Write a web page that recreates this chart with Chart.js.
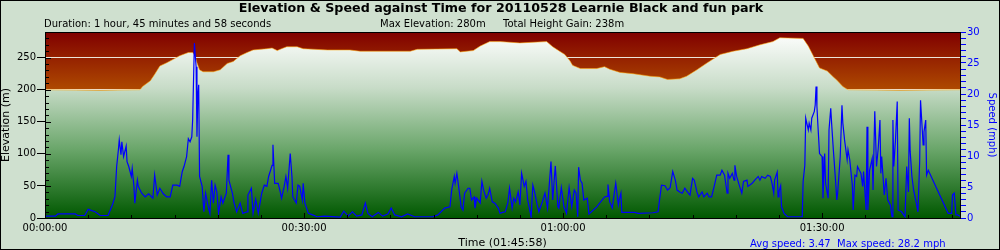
<!DOCTYPE html>
<html>
<head>
<meta charset="utf-8">
<title>Elevation & Speed against Time</title>
<script src="https://cdn.jsdelivr.net/npm/chart.js@4.4.0/dist/chart.umd.min.js"></script>
<style>
  body { margin: 0; background: #cfe0cf; }
  canvas { display: block; }
</style>
</head>
<body>
<canvas id="myChart" width="1000" height="250"></canvas>
<script>
// elevation profile: minutes from start -> metres
const elevTime = [0, 6.4, 11.0, 11.3, 12.2, 12.7, 13.3, 14.1, 14.8, 15.6,
  16.6, 17.1, 17.4, 17.6, 17.9, 18.3, 19.5, 20.3, 21.1, 21.8,
  22.6, 23.4, 24.1, 25.7, 26.3, 26.9, 27.4, 28.0, 29.2, 29.9,
  32.7, 35.3, 36.5, 42.3, 43.1, 47.7, 48.1, 49.6, 50.4, 51.5,
  52.7, 55.0, 58.1, 58.8, 59.6, 60.2, 60.8, 61.1, 62.0, 63.9,
  64.8, 65.4, 66.6, 68.1, 70.1, 71.2, 72.1, 73.5, 74.3, 75.5,
  76.7, 78.2, 79.7, 81.3, 82.8, 84.3, 85.1, 87.8, 88.4, 88.9,
  89.7, 90.6, 91.3, 91.7, 92.4, 93.0, 99.0, 105.97];
const elevation = [200, 199, 200, 205, 214, 224, 237, 242, 247, 253,
  258, 258, 252, 242, 231, 228, 228, 231, 241, 244,
  253, 258, 262, 264, 265, 261, 264, 267, 267, 264,
  262, 262, 260, 260, 263, 264, 259, 261, 268, 275,
  275, 273, 275, 267, 260, 255, 245, 238, 233, 233,
  236, 232, 227, 225, 221, 220, 216, 217, 221, 231,
  242, 255, 260, 264, 270, 275, 281, 280, 268, 255,
  234, 229, 220, 215, 205, 200, 199, 200];

// speed trace: minutes from start -> mph
const speedTime = [0, 1.2, 1.5, 3.5, 3.8, 4.6, 5.0, 5.8, 6.4, 7.3,
  7.8, 8.1, 8.3, 8.5, 8.6, 8.8, 8.9, 9.1, 9.4, 9.5,
  9.7, 10.0, 10.1, 10.3, 10.4, 10.7, 10.8, 11.2, 11.6, 12.0,
  12.5, 12.7, 13.0, 13.3, 13.7, 14.1, 14.5, 14.8, 15.3, 15.6,
  15.9, 16.1, 16.4, 16.6, 16.8, 17.0, 17.1, 17.3, 17.5, 17.6,
  17.7, 17.8, 17.9, 18.2, 18.4, 18.6, 18.9, 19.1, 19.3, 19.5,
  19.7, 19.9, 20.1, 20.4, 20.6, 21.0, 21.2, 21.3, 21.7, 21.9,
  22.2, 22.6, 22.9, 23.4, 23.5, 23.9, 24.1, 24.4, 24.7, 25.1,
  25.4, 25.7, 25.9, 26.3, 26.4, 26.6, 27.0, 27.2, 27.4, 27.7,
  27.9, 28.1, 28.4, 28.6, 28.7, 29.1, 29.3, 29.5, 29.8, 29.9,
  30.1, 30.5, 31.0, 31.5, 32.4, 34.2, 34.6, 35.1, 35.6, 36.1,
  36.7, 37.1, 37.4, 37.9, 38.6, 39.1, 39.7, 40.1, 40.5, 41.3,
  42.0, 42.8, 44.9, 45.5, 46.3, 46.9, 47.1, 47.4, 47.5, 47.7,
  47.9, 48.2, 48.4, 48.6, 49.0, 49.2, 49.4, 49.7, 49.8, 50.0,
  50.4, 50.6, 50.8, 51.1, 51.3, 51.5, 51.8, 52.1, 52.5, 52.7,
  53.0, 53.3, 53.6, 53.8, 54.1, 54.3, 54.5, 54.8, 55.0, 55.2,
  55.5, 55.7, 55.9, 56.3, 56.5, 56.7, 57.0, 57.2, 57.6, 57.9,
  58.2, 58.4, 58.6, 58.8, 59.1, 59.4, 59.5, 59.8, 60.1, 60.4,
  60.7, 61.0, 61.3, 61.5, 61.7, 61.8, 62.0, 62.2, 62.4, 62.8,
  63.0, 63.9, 64.8, 65.1, 65.2, 65.4, 65.7, 65.9, 66.1, 66.4,
  66.5, 66.7, 66.8, 68.3, 68.7, 70.4, 71.0, 71.2, 71.4, 71.8,
  72.1, 72.4, 72.7, 73.0, 73.2, 73.5, 73.8, 74.1, 74.5, 74.7,
  75.0, 75.2, 75.5, 75.7, 76.1, 76.3, 76.7, 76.9, 77.2, 77.5,
  77.8, 78.2, 78.4, 78.7, 79.0, 79.1, 79.3, 79.6, 79.8, 79.9,
  80.1, 80.4, 80.7, 80.9, 81.3, 81.4, 81.9, 82.2, 82.6, 82.8,
  83.0, 83.4, 83.7, 84.0, 84.2, 84.4, 84.5, 84.8, 84.9, 85.0,
  85.2, 85.3, 85.6, 86.0, 87.7, 87.8, 88.0, 88.1, 88.4, 88.5,
  88.7, 88.8, 89.1, 89.2, 89.3, 89.4, 89.5, 89.7, 90.0, 90.1,
  90.3, 90.4, 90.7, 90.8, 91.0, 91.1, 91.3, 91.4, 91.6, 91.7,
  91.8, 92.1, 92.3, 92.4, 92.6, 92.9, 93.0, 93.2, 93.5, 93.6,
  93.8, 94.0, 94.1, 94.5, 94.7, 94.8, 95.1, 95.2, 95.3, 95.5,
  95.8, 95.9, 96.1, 96.3, 96.5, 96.7, 96.8, 96.9, 97.2, 97.4,
  97.6, 97.9, 98.1, 98.2, 98.3, 98.5, 98.7, 98.8, 99.2, 99.6,
  99.8, 100.0, 100.1, 100.2, 100.4, 100.6, 101.0, 101.1, 101.3, 101.4,
  101.7, 101.8, 102.0, 102.1, 102.3, 104.6, 105.0, 105.1, 105.3, 105.5,
  105.7, 105.97];
const speed = [0.3, 0.3, 0.65, 0.65, 0.4, 0.4, 1.4, 1.0, 0.4, 0.4,
  2.1, 3.4, 8.3, 11, 12.6, 10.2, 12.3, 9.9, 11.6, 9.1,
  8.3, 6.7, 8.0, 5.1, 2.4, 6.1, 5.1, 4.0, 3.4, 3.9,
  3.2, 6.9, 3.7, 4.8, 3.9, 3.4, 3.4, 5.3, 5.3, 5.1,
  7.5, 8.3, 9.9, 12.8, 12.3, 13.1, 15.8, 28.2, 24.4, 13.1,
  19.6, 21.5, 6.7, 5.1, 1.0, 4.0, 1.8, 0.75, 6.1, 2.4,
  5.3, 4.2, 0.75, 3.4, 2.4, 4.0, 10.2, 6.1, 4.0, 2.4,
  1.0, 2.4, 0.75, 1.0, 3.7, 4.8, 0.75, 3.0, 0.75, 4.0,
  5.3, 5.1, 6.7, 8.5, 11.8, 5.6, 5.6, 4.5, 3.2, 5.1,
  6.7, 4.8, 10.4, 6.7, 3.4, 2.4, 5.3, 5.1, 2.9, 5.6,
  2.4, 0.75, 0.5, 0.2, 0.3, 0.15, 1.1, 0.3, 1.0, 0.3,
  0.5, 2.4, 0.75, 0.2, 0.9, 0.3, 0.65, 1.6, 0.5, 0.2,
  0.65, 0.2, 0.2, 0.5, 1.6, 1.8, 4.5, 6.7, 5.6, 7.2,
  5.1, 1.8, 1.3, 4.0, 4.8, 4.8, 2.9, 3.4, 1.6, 3.2,
  2.4, 5.9, 4.5, 3.2, 3.7, 4.8, 2.6, 2.4, 1.6, 0.75,
  0.9, 1.0, 2.4, 4.8, 1.6, 3.2, 2.6, 4.2, 2.1, 7.2,
  5.1, 5.9, 2.9, 0.2, 5.3, 4.2, 2.1, 1.0, 2.6, 4.0,
  1.6, 5.3, 9.1, 2.9, 8.4, 1.8, 1.6, 4.9, 1.8, 0.75,
  4.9, 1.8, 4.5, 4.0, 0.2, 8.2, 6.1, 5.6, 2.9, 3.2,
  0.65, 1.8, 3.4, 3.5, 5.4, 2.6, 1.6, 3.7, 5.6, 2.1,
  2.9, 4.0, 0.9, 0.9, 0.75, 0.85, 1.0, 3.2, 5.3, 5.2,
  4.5, 4.9, 7.5, 6.1, 4.5, 4.2, 4.0, 4.8, 4.0, 3.7,
  6.4, 6.1, 4.2, 3.4, 4.2, 3.4, 4.0, 3.4, 3.4, 5.1,
  6.9, 6.9, 7.7, 6.9, 4.0, 7.2, 6.4, 7.2, 6.1, 8.5,
  6.7, 5.3, 4.0, 5.9, 6.1, 5.1, 5.6, 6.1, 6.7, 6.1,
  6.7, 6.4, 6.9, 6.7, 5.6, 4.0, 6.1, 7.4, 3.4, 4.2,
  5.2, 1.8, 0.75, 0.2, 0.2, 5.9, 8.5, 16.1, 14.2, 15.3,
  14.2, 16.1, 17.2, 18.2, 21.2, 18.0, 15.3, 10.4, 9.9, 3.2,
  10.4, 5.6, 3.2, 14.2, 17.7, 15.3, 11.0, 9.1, 5.1, 2.9,
  4.0, 9.9, 18.2, 15.3, 12.6, 9.4, 11.0, 9.4, 5.3, 1.3,
  6.9, 6.7, 8.3, 7.2, 5.1, 7.5, 1.3, 14.7, 1.3, 7.7,
  9.6, 4.5, 17.2, 8.3, 11.2, 15.8, 7.2, 9.9, 3.7, 6.4,
  2.9, 2.1, 0.2, 15.8, 8.3, 12.6, 18.8, 1.3, 1.0, 0.2,
  8.3, 4.2, 16.1, 10.7, 6.7, 4.5, 1.8, 1.0, 9.1, 19.0,
  11.8, 13.9, 15.8, 6.9, 7.7, 0.75, 0.75, 3.7, 4.0, 0.5,
  0.5, 0.3];

// axes
const totalMins = 105.97;   // 01:45:58
const xTickMins = [0, 5, 10, 15, 20, 25, 30, 35, 40, 45, 50, 55, 60, 65, 70, 75, 80, 85, 90, 95, 100, 105];
const xLabelMins = [0, 30, 60, 90];
const xLabels = ['00:00:00', '00:30:00', '01:00:00', '01:30:00'];
const elevTicks = [0, 10, 20, 30, 40, 50, 60, 70, 80, 90, 100, 110, 120, 130, 140, 150,
  160, 170, 180, 190, 200, 210, 220, 230, 240, 250, 260, 270, 280, 290];
const speedTicks = [0, 1, 2, 3, 4, 5, 6, 7, 8, 9, 10, 11, 12, 13, 14, 15,
  16, 17, 18, 19, 20, 21, 22, 23, 24, 25, 26, 27, 28, 29, 30];

// texts
const chartTitle = 'Elevation & Speed against Time for 20110528 Learnie Black and fun park';
const durationText = 'Duration: 1 hour, 45 minutes and 58 seconds';
const maxElevText = 'Max Elevation: 280m';
const gainText = 'Total Height Gain: 238m';
const speedText = 'Avg speed: 3.47  Max speed: 28.2 mph';

const FONT = 'DejaVu Sans';

const decor = {
  id: 'decor',
  beforeDraw(chart) {
    const {ctx, chartArea: a} = chart;
    ctx.save();
    const g = ctx.createLinearGradient(0, a.top, 0, a.bottom);
    g.addColorStop(0, '#800000');
    g.addColorStop(0.32, '#b04c00');
    g.addColorStop(1, '#e08a00');
    ctx.fillStyle = g;
    ctx.fillRect(a.left, a.top, a.right - a.left, a.bottom - a.top);
    ctx.restore();
  },
  afterDatasetsDraw(chart) {
    const {ctx, chartArea: a} = chart;
    const x = chart.scales.x, y = chart.scales.y;
    ctx.save();
    ctx.strokeStyle = '#000';
    ctx.lineWidth = 1;
    ctx.beginPath();
    y.ticks.forEach(t => {
      const py = Math.round(y.getPixelForValue(t.value)) + 0.5;
      ctx.moveTo(a.left, py);
      ctx.lineTo(a.left + (t.value % 50 ? 4 : 6), py);
    });
    x.ticks.forEach(t => {
      const px = Math.round(x.getPixelForValue(t.value)) + 0.5;
      ctx.moveTo(px, a.bottom);
      ctx.lineTo(px, a.bottom - (t.value % 30 ? 3 : 5));
    });
    ctx.stroke();
    ctx.strokeRect(a.left + 0.5, a.top + 0.5, a.right - a.left, a.bottom - a.top);
    ctx.restore();
  },
  afterDraw(chart) {
    const ctx = chart.ctx;
    ctx.save();
    ctx.fillStyle = '#000';
    ctx.textBaseline = 'alphabetic';
    ctx.textAlign = 'center';
    ctx.font = 'bold 12.7px "' + FONT + '"';
    ctx.fillText(chartTitle, 501, 12);
    ctx.textAlign = 'left';
    ctx.font = '10px "' + FONT + '"';
    ctx.fillText(durationText, 44, 27);
    ctx.fillText(maxElevText, 380, 27);
    ctx.fillText(gainText, 503, 27);
    ctx.fillStyle = '#0000ff';
    ctx.fillText(speedText, 750, 247);
    ctx.strokeStyle = '#000';
    ctx.strokeRect(0.5, 0.5, 999, 249);
    ctx.restore();
  }
};

const elevFill = c => {
  const a = c.chart.chartArea;
  if (!a) return '#ffffff';
  const g = c.chart.ctx.createLinearGradient(0, a.top, 0, a.bottom);
  g.addColorStop(0, '#ffffff');
  g.addColorStop(0.3, '#c8dcc8');
  g.addColorStop(0.63, '#6aa66a');
  g.addColorStop(1, '#005800');
  return g;
};

new Chart(document.getElementById('myChart'), {
  type: 'line',
  data: {
    datasets: [{
      label: 'Speed',
      data: speedTime.map((t, i) => ({x: t, y: speed[i]})),
      yAxisID: 'y1',
      borderColor: '#0000ff',
      borderWidth: 1.2,
      pointRadius: 0,
      tension: 0,
      fill: false,
      order: 0
    }, {
      label: 'Elevation',
      data: elevTime.map((t, i) => ({x: t, y: elevation[i]})),
      yAxisID: 'y',
      borderColor: 'rgba(255,160,0,0.55)',
      borderWidth: 1,
      backgroundColor: elevFill,
      fill: 'origin',
      pointRadius: 0,
      tension: 0,
      order: 1
    }]
  },
  options: {
    responsive: false,
    animation: false,
    devicePixelRatio: 1,
    layout: {padding: {top: 32, left: 0, right: 0, bottom: 0}},
    plugins: {legend: {display: false}, tooltip: {enabled: false}},
    scales: {
      x: {
        type: 'linear', min: 0, max: totalMins,
        afterBuildTicks: s => { s.ticks = xTickMins.map(v => ({value: v})); },
        afterFit: s => { s.height = 32; },
        grid: {drawOnChartArea: false, drawTicks: false},
        border: {display: false},
        ticks: {
          autoSkip: false, maxRotation: 0, padding: 4, color: '#000',
          font: {family: FONT, size: 10},
          callback: v => { const i = xLabelMins.indexOf(v); return i < 0 ? '' : xLabels[i]; }
        },
        title: {display: true, text: 'Time (01:45:58)', color: '#000', font: {family: FONT, size: 11}, padding: 0}
      },
      y: {
        position: 'left', min: 0, max: 290,
        afterBuildTicks: s => { s.ticks = elevTicks.map(v => ({value: v})); },
        afterFit: s => { s.width = 45; },
        grid: {
          color: c => (c.tick && c.tick.value % 50 === 0 && c.tick.value > 0) ? '#ece4da' : 'rgba(0,0,0,0)',
          tickColor: c => (c.tick && c.tick.value % 50 === 0) ? '#000' : 'rgba(0,0,0,0)',
          tickLength: 8
        },
        border: {display: false},
        ticks: {autoSkip: false, padding: 1, color: '#000', font: {family: FONT, size: 10}, callback: v => v % 50 === 0 ? v : ''},
        title: {display: true, text: 'Elevation (m)', color: '#000', font: {family: FONT, size: 11}, padding: 0}
      },
      y1: {
        position: 'right', min: 0, max: 30,
        afterBuildTicks: s => { s.ticks = speedTicks.map(v => ({value: v})); },
        afterFit: s => { s.width = 40; },
        grid: {drawOnChartArea: false, tickLength: 6, tickColor: '#0000ff'},
        border: {display: false},
        ticks: {autoSkip: false, padding: 1, color: '#0000ff', font: {family: FONT, size: 10}, callback: v => v % 5 === 0 ? v : ''},
        title: {display: true, text: 'Speed (mph)', color: '#0000ff', font: {family: FONT, size: 10}, padding: {top: 2, bottom: 0}}
      }
    }
  },
  plugins: [decor]
});
</script>
</body>
</html>
